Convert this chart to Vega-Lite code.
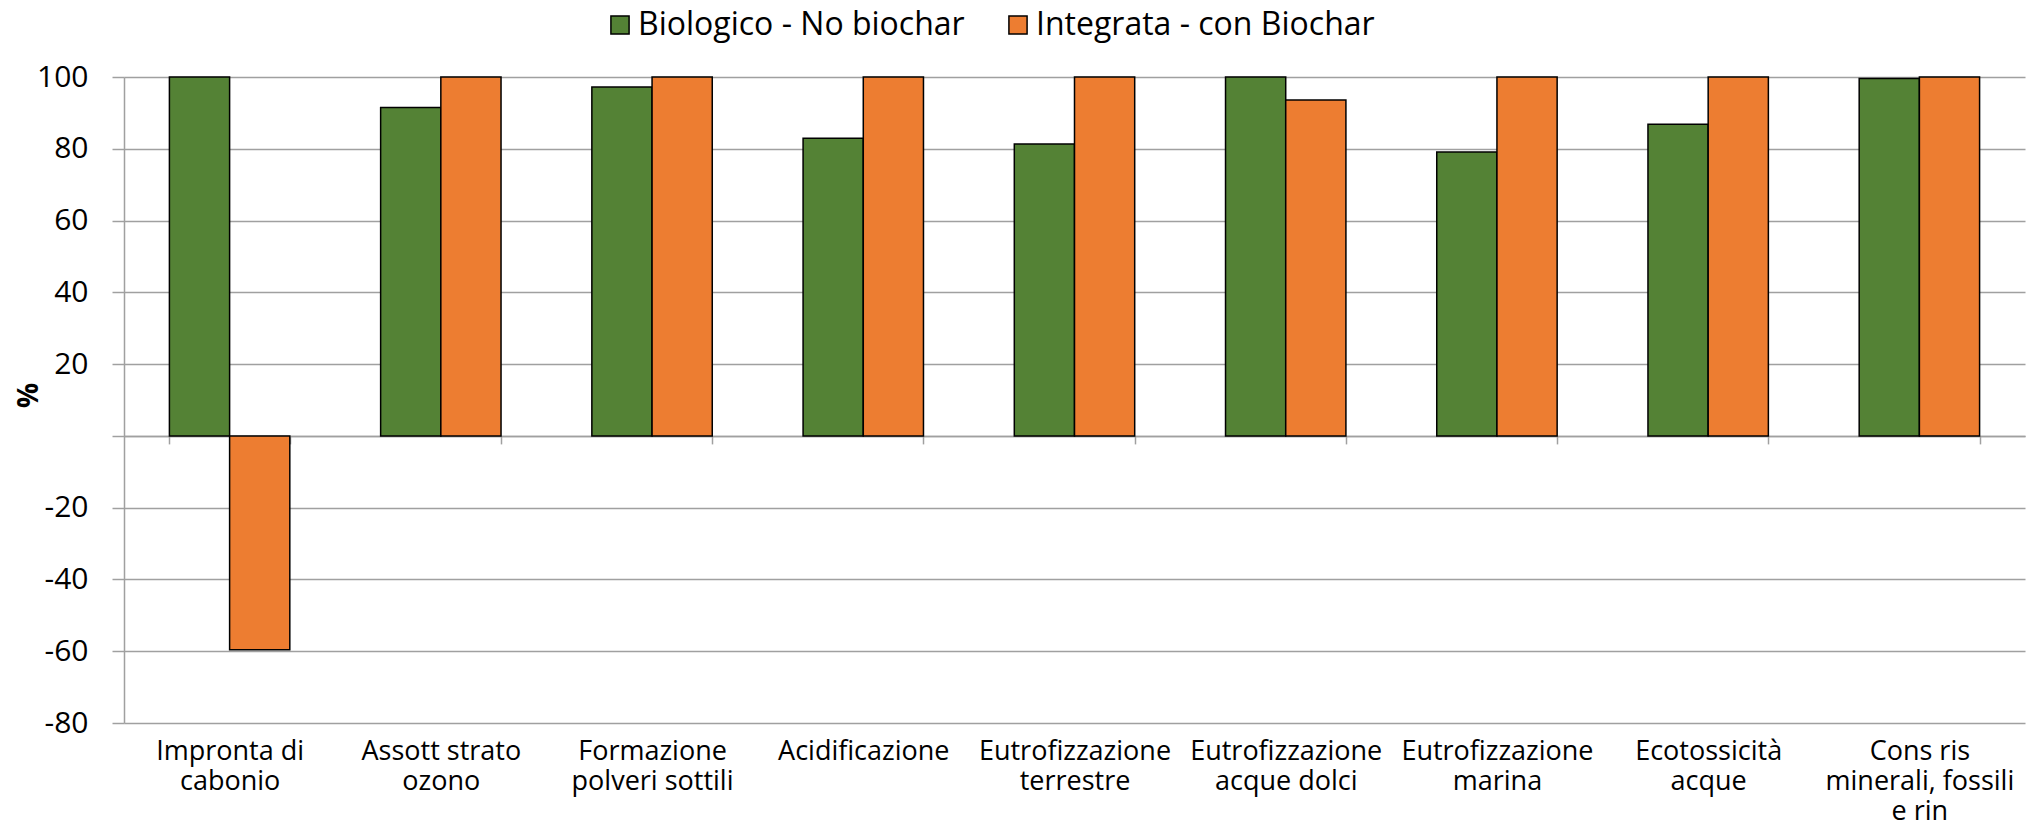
{
  "$schema": "https://vega.github.io/schema/vega-lite/v6.json",
  "width": 1901,
  "height": 646,
  "autosize": {"type": "none"},
  "padding": {"left": 124, "top": 77, "right": 6, "bottom": 109},
  "background": "white",
  "config": {"view": {"stroke": null}, "font": "Open Sans"},
  "data": {
    "values": [
      {"category": "Impronta di cabonio", "series": "Biologico - No biochar", "value": 100},
      {"category": "Impronta di cabonio", "series": "Integrata - con Biochar", "value": -59.6},
      {"category": "Assott strato ozono", "series": "Biologico - No biochar", "value": 91.5},
      {"category": "Assott strato ozono", "series": "Integrata - con Biochar", "value": 100},
      {"category": "Formazione polveri sottili", "series": "Biologico - No biochar", "value": 97.2},
      {"category": "Formazione polveri sottili", "series": "Integrata - con Biochar", "value": 100},
      {"category": "Acidificazione", "series": "Biologico - No biochar", "value": 82.9},
      {"category": "Acidificazione", "series": "Integrata - con Biochar", "value": 100},
      {"category": "Eutrofizzazione terrestre", "series": "Biologico - No biochar", "value": 81.3},
      {"category": "Eutrofizzazione terrestre", "series": "Integrata - con Biochar", "value": 100},
      {"category": "Eutrofizzazione acque dolci", "series": "Biologico - No biochar", "value": 100},
      {"category": "Eutrofizzazione acque dolci", "series": "Integrata - con Biochar", "value": 93.6},
      {"category": "Eutrofizzazione marina", "series": "Biologico - No biochar", "value": 79.1},
      {"category": "Eutrofizzazione marina", "series": "Integrata - con Biochar", "value": 100},
      {"category": "Ecotossicità acque", "series": "Biologico - No biochar", "value": 86.8},
      {"category": "Ecotossicità acque", "series": "Integrata - con Biochar", "value": 100},
      {"category": "Cons ris minerali, fossili e rin", "series": "Biologico - No biochar", "value": 99.6},
      {"category": "Cons ris minerali, fossili e rin", "series": "Integrata - con Biochar", "value": 100}
    ]
  },
  "mark": {"type": "bar", "stroke": "#000000", "strokeWidth": 1.5},
  "encoding": {
    "x": {
      "field": "category",
      "type": "nominal",
      "sort": ["Impronta di cabonio", "Assott strato ozono", "Formazione polveri sottili", "Acidificazione", "Eutrofizzazione terrestre", "Eutrofizzazione acque dolci", "Eutrofizzazione marina", "Ecotossicità acque", "Cons ris minerali, fossili e rin"],
      "scale": {"paddingInner": 0.43, "paddingOuter": 0.215},
      "axis": {
        "title": null,
        "orient": "bottom",
        "offset": -287.1,
        "labelAngle": 0,
        "domainColor": "#a0a0a0",
        "domainWidth": 1.5,
        "tickColor": "#a0a0a0",
        "tickWidth": 1.5,
        "tickSize": 8,
        "tickBand": "extent",
        "labelPadding": 295,
        "labelFontSize": 27,
        "labelColor": "#000000",
        "labelLineHeight": 30,
        "labelLimit": 400,
        "labelOverlap": false,
        "labelBound": false,
        "labelExpr": "datum.label == 'Impronta di cabonio' ? ['Impronta di', 'cabonio'] : datum.label == 'Assott strato ozono' ? ['Assott strato', 'ozono'] : datum.label == 'Formazione polveri sottili' ? ['Formazione', 'polveri sottili'] : datum.label == 'Eutrofizzazione terrestre' ? ['Eutrofizzazione', 'terrestre'] : datum.label == 'Eutrofizzazione acque dolci' ? ['Eutrofizzazione', 'acque dolci'] : datum.label == 'Eutrofizzazione marina' ? ['Eutrofizzazione', 'marina'] : datum.label == 'Ecotossicità acque' ? ['Ecotossicità', 'acque'] : datum.label == 'Cons ris minerali, fossili e rin' ? ['Cons ris', 'minerali, fossili', 'e rin'] : datum.label"
      }
    },
    "xOffset": {
      "field": "series",
      "type": "nominal",
      "scale": {"domain": ["Biologico - No biochar", "Integrata - con Biochar"], "paddingInner": 0, "paddingOuter": 0}
    },
    "y": {
      "field": "value",
      "type": "quantitative",
      "scale": {"domain": [-80, 100], "nice": false, "zero": true},
      "axis": {
        "title": "%",
        "titleFontSize": 28,
        "titleFontWeight": "bold",
        "titleColor": "#000000",
        "titleAngle": -90,
        "titleBaseline": "middle",
        "titleX": -95,
        "titleY": 318,
        "values": [-80, -60, -40, -20, 0, 20, 40, 60, 80, 100],
        "labelExpr": "datum.value === 0 ? '' : toString(datum.value)",
        "labelFontSize": 30,
        "labelColor": "#000000",
        "labelPadding": 24,
        "tickSize": 12,
        "tickColor": "#a0a0a0",
        "tickWidth": 1.5,
        "domainColor": "#a0a0a0",
        "domainWidth": 1.5,
        "grid": true,
        "gridColor": "#a0a0a0",
        "gridWidth": 1.5
      }
    },
    "color": {
      "field": "series",
      "type": "nominal",
      "scale": {"domain": ["Biologico - No biochar", "Integrata - con Biochar"], "range": ["#548235", "#ED7D31"]},
      "legend": {
        "title": null,
        "orient": "none",
        "direction": "horizontal",
        "legendX": 480,
        "legendY": -68,
        "labelFontSize": 32,
        "labelColor": "#000000",
        "symbolType": "square",
        "symbolSize": 330,
        "symbolStrokeColor": "#000000",
        "symbolStrokeWidth": 1.5,
        "symbolOpacity": 1,
        "labelOffset": 2,
        "columnPadding": 37,
        "labelLimit": 500
      }
    }
  }
}
